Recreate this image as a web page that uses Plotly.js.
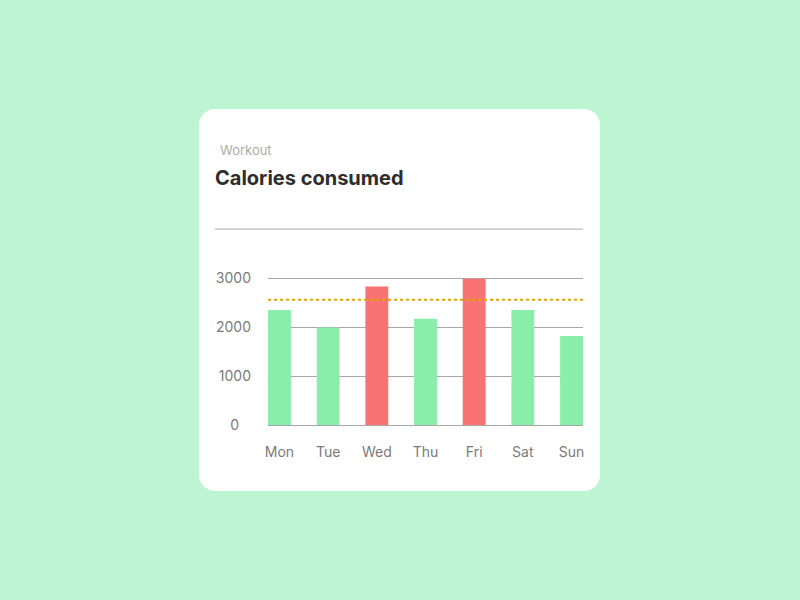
<!DOCTYPE html>
<html>
<head>
<meta charset="utf-8">
<script src="https://cdn.plot.ly/plotly-3.0.1.min.js"></script>
<style>
  html, body { margin: 0; padding: 0; background: #bdf5d2; }
  #card {
    position: absolute; left: 199px; top: 109px;
    width: 401px; height: 382px;
    background: #ffffff; border-radius: 16px;
  }
  #chart { position: absolute; left: 0; top: 0; width: 800px; height: 600px; }
</style>
</head>
<body>
<div id="card"></div>
<div id="chart"></div>
<script>
// weekly calories
const days = ['Mon', 'Tue', 'Wed', 'Thu', 'Fri', 'Sat', 'Sun']
const calories = [2350, 1990, 2830, 2170, 2990, 2350, 1820]
const goal = 2560
const yTicks = [0, 1000, 2000, 3000]
const yTickText = ['0\u00a0\u00a0\u00a0', '1000', '2000', '3000']

const green = '#88eeaa'
const red = '#f87474'

const barColors = calories.map(c => (c > goal ? red : green))

const trace = {
  x: days,
  y: calories,
  type: 'bar',
  width: 0.47,
  marker: { color: barColors },
  hoverinfo: 'none'
}

// plot area: x 268..583, y 276..425
const layout = {
  width: 800,
  height: 600,
  margin: { l: 268, r: 217, t: 276, b: 175 },
  paper_bgcolor: 'rgba(0,0,0,0)',
  plot_bgcolor: 'rgba(0,0,0,0)',
  font: { family: 'Inter, "Noto Sans", sans-serif', color: '#7a7a7a', size: 14 },
  showlegend: false,
  xaxis: {
    type: 'category',
    range: [-0.236, 6.236],
    showgrid: false,
    zeroline: false,
    showline: false,
    ticks: '',
    ticklabelstandoff: 17,
    tickfont: { size: 14, color: '#7a7a7a' },
    fixedrange: true
  },
  yaxis: {
    range: [0, 3045],
    tickvals: yTicks,
    ticktext: yTickText,
    showgrid: true,
    gridcolor: '#a8a8a8',
    gridwidth: 1,
    zeroline: true,
    zerolinecolor: '#a8a8a8',
    zerolinewidth: 1,
    showline: false,
    ticks: '',
    ticklabelstandoff: 16,
    tickfont: { size: 14, color: '#7a7a7a' },
    fixedrange: true
  },
  shapes: [
    {
      // goal line
      type: 'line', xref: 'paper', x0: 0, x1: 1, yref: 'y', y0: goal, y1: goal,
      line: { color: '#e2a20a', width: 2, dash: 'dot' }
    },
    {
      // separator under the header
      type: 'line', xref: 'paper', x0: -0.168, x1: 1, yref: 'paper', y0: 1.315, y1: 1.315,
      line: { color: '#a8a8a8', width: 1 }
    }
  ],
  annotations: [
    {
      text: 'Workout', xref: 'paper', yref: 'paper', x: -0.158, y: 1.846,
      xanchor: 'left', yanchor: 'middle', showarrow: false,
      font: { size: 13, color: '#ababab' }
    },
    {
      text: '<b>Calories consumed</b>', xref: 'paper', yref: 'paper', x: -0.174, y: 1.658,
      xanchor: 'left', yanchor: 'middle', showarrow: false,
      font: { size: 20, color: '#2d2d2d' }
    }
  ]
}

Plotly.newPlot('chart', [trace], layout, { displayModeBar: false, staticPlot: true })
</script>
</body>
</html>
